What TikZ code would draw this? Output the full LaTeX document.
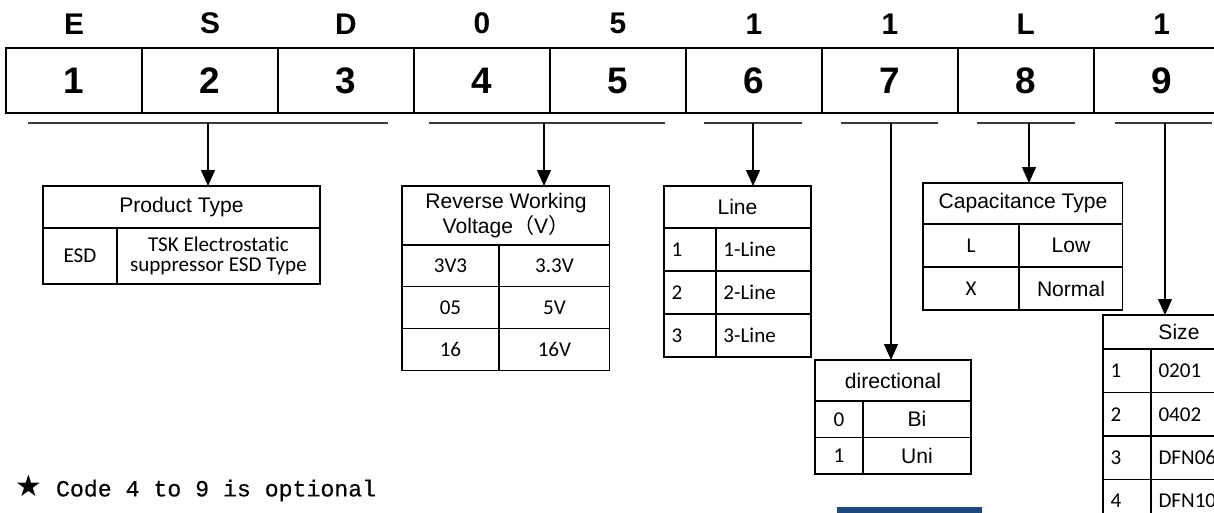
\documentclass[tikz,border=0pt]{standalone}
\usepackage{fontspec}
\setmainfont{Liberation Sans}
\newfontfamily\calibrifont[Ligatures=NoCommon]{Carlito}
\newfontfamily\monofont[FakeBold=0.4]{Liberation Mono}
\newfontfamily\symfont{DejaVu Sans}
\newfontfamily\cjkfont{Noto Sans CJK SC}
\usetikzlibrary{arrows.meta, positioning}
\definecolor{NavyBar}{HTML}{1F497D}
\definecolor{RuleGray}{HTML}{3A3A3A}
\tikzset{
    codecell/.style={rectangle, draw=black, line width=1.2pt, outer sep=0pt, inner sep=0pt, minimum width=2.72cm, minimum height=1.3cm, font=\fontsize{21}{21}\selectfont\bfseries},
    codeletter/.style={inner sep=0pt, font=\fontsize{17}{17}\selectfont\bfseries},
    hdrcell/.style={rectangle, draw=black, outer sep=0pt, inner sep=0pt, align=center, font=\fontsize{12}{12.5}\selectfont},
    valcell/.style={rectangle, draw=black, outer sep=0pt, inner sep=0pt, align=center, font=\calibrifont\fontsize{12}{11.5}\selectfont},
    arialval/.style={valcell, font=\rmfamily\fontsize{12}{12}\selectfont},
    leftcell/.style={valcell, align=left, text width=#1, inner xsep=0.15cm},
    rulestroke/.style={draw=RuleGray, line width=1.2pt},
    pickarrow/.style={-{Triangle[length=0.32cm, width=0.28cm]}, draw=black, line width=0.75pt},
    notetext/.style={inner sep=0pt, font=\monofont\fontsize{13.2}{13.2}\selectfont}
}

\begin{document}
\begin{tikzpicture}[x=0.02cm, y=-0.02cm, node distance=0pt]
    \useasboundingbox (0,0) rectangle (1214,512);

    % Code cells
    \node[codecell, anchor=north west] (c1) at (6,48) {1};
    \node[codecell, right=of c1] (c2) {2};
    \node[codecell, right=of c2] (c3) {3};
    \node[codecell, right=of c3] (c4) {4};
    \node[codecell, right=of c4] (c5) {5};
    \node[codecell, right=of c5] (c6) {6};
    \node[codecell, right=of c6] (c7) {7};
    \node[codecell, right=of c7] (c8) {8};
    \node[codecell, right=of c8] (c9) {9};

    % Part number letters
    \node[codeletter, above=2.7mm of c1] (l1) {E};
    \node[codeletter, above=2.7mm of c2] (l2) {S};
    \node[codeletter, above=2.7mm of c3] (l3) {D};
    \node[codeletter, above=2.7mm of c4] (l4) {0};
    \node[codeletter, above=2.7mm of c5] (l5) {5};
    \node[codeletter, above=2.7mm of c6] (l6) {1};
    \node[codeletter, above=2.7mm of c7] (l7) {1};
    \node[codeletter, above=2.7mm of c8] (l8) {L};
    \node[codeletter, above=2.7mm of c9] (l9) {1};

    % Group rules
    \draw[rulestroke] (28,123) -- (388,123);
    \draw[rulestroke] (429,123) -- (665,123);
    \draw[rulestroke] (704,123) -- (802,123);
    \draw[rulestroke] (841,123) -- (938,123);
    \draw[rulestroke] (977,123) -- (1075,123);
    \draw[rulestroke] (1115,123) -- (1212,123);
    \coordinate (u1) at (208,123);
    \coordinate (u2) at (544,123);
    \coordinate (u3) at (753,123);
    \coordinate (u4) at (891,123);
    \coordinate (u5) at (1029,123);
    \coordinate (u6) at (1165,123);

    % Product type
    \begin{scope}[line width=1pt]
    \node[hdrcell, anchor=north west, minimum width=5.54cm, minimum height=0.84cm] (prodhdr) at (43,186) {Product Type};
    \node[valcell, below right=of prodhdr.south west, minimum width=1.48cm, minimum height=1.12cm] (prodk) {ESD};
    \node[valcell, right=of prodk, minimum width=4.06cm, minimum height=1.12cm] (prodv) {TSK Electrostatic\\suppressor ESD Type};
    \end{scope}

    % Reverse working voltage
    \begin{scope}[line width=0.6pt]
    \node[hdrcell, anchor=north west, minimum width=4.16cm, minimum height=1.18cm] (volthdr) at (402,186) {Reverse Working\\Voltage{\cjkfont（}V{\cjkfont）}};
    \node[valcell, below right=of volthdr.south west, minimum width=1.94cm, minimum height=0.835cm] (volt1k) {3V3};
    \node[valcell, right=of volt1k, minimum width=2.22cm, minimum height=0.835cm] (volt1v) {3.3V};
    \node[valcell, below=of volt1k, minimum width=1.94cm, minimum height=0.835cm] (volt2k) {05};
    \node[valcell, right=of volt2k, minimum width=2.22cm, minimum height=0.835cm] (volt2v) {5V};
    \node[valcell, below=of volt2k, minimum width=1.94cm, minimum height=0.835cm] (volt3k) {16};
    \node[valcell, right=of volt3k, minimum width=2.22cm, minimum height=0.835cm] (volt3v) {16V};
    \end{scope}

    % Line
    \begin{scope}[line width=1.1pt]
    \node[hdrcell, anchor=north west, minimum width=2.94cm, minimum height=0.84cm] (linehdr) at (664,186) {Line};
    \node[leftcell=0.74cm, below right=of linehdr.south west, minimum height=0.86cm] (line1k) {1};
    \node[leftcell=1.6cm, right=of line1k, minimum height=0.86cm] (line1v) {1-Line};
    \node[leftcell=0.74cm, below=of line1k, minimum height=0.86cm] (line2k) {2};
    \node[leftcell=1.6cm, right=of line2k, minimum height=0.86cm] (line2v) {2-Line};
    \node[leftcell=0.74cm, below=of line2k, minimum height=0.86cm] (line3k) {3};
    \node[leftcell=1.6cm, right=of line3k, minimum height=0.86cm] (line3v) {3-Line};
    \end{scope}

    % Directional
    \begin{scope}[line width=0.85pt]
    \node[hdrcell, anchor=north west, minimum width=3.12cm, minimum height=0.82cm] (dirhdr) at (815,360) {directional};
    \node[valcell, below right=of dirhdr.south west, minimum width=0.96cm, minimum height=0.73cm] (dir1k) {0};
    \node[arialval, right=of dir1k, minimum width=2.16cm, minimum height=0.73cm] (dir1v) {Bi};
    \node[valcell, below=of dir1k, minimum width=0.96cm, minimum height=0.73cm] (dir2k) {1};
    \node[arialval, right=of dir2k, minimum width=2.16cm, minimum height=0.73cm] (dir2v) {Uni};
    \end{scope}

    % Capacitance type
    \begin{scope}[line width=0.6pt]
    \node[hdrcell, anchor=north west, minimum width=4cm, minimum height=0.82cm] (caphdr) at (923,183) {Capacitance Type};
    \node[valcell, below right=of caphdr.south west, minimum width=1.92cm, minimum height=0.86cm] (cap1k) {L};
    \node[arialval, right=of cap1k, minimum width=2.08cm, minimum height=0.86cm] (cap1v) {Low};
    \node[valcell, below=of cap1k, minimum width=1.92cm, minimum height=0.86cm] (cap2k) {X};
    \node[arialval, right=of cap2k, minimum width=2.08cm, minimum height=0.86cm] (cap2v) {Normal};
    \end{scope}

    % Size
    \begin{scope}[line width=0.8pt]
    \node[hdrcell, anchor=north west, minimum width=3.04cm, minimum height=0.68cm] (sizehdr) at (1103,315) {Size};
    \node[leftcell=0.66cm, below right=of sizehdr.south west, minimum height=0.87cm] (size1k) {1};
    \node[leftcell=1.78cm, right=of size1k, minimum height=0.87cm] (size1v) {0201};
    \node[leftcell=0.66cm, below=of size1k, minimum height=0.87cm] (size2k) {2};
    \node[leftcell=1.78cm, right=of size2k, minimum height=0.87cm] (size2v) {0402};
    \node[leftcell=0.66cm, below=of size2k, minimum height=0.87cm] (size3k) {3};
    \node[leftcell=1.78cm, right=of size3k, minimum height=0.87cm] (size3v) {DFN06};
    \node[leftcell=0.66cm, below=of size3k, minimum height=0.87cm] (size4k) {4};
    \node[leftcell=1.78cm, right=of size4k, minimum height=0.87cm] (size4v) {DFN10};
    \end{scope}

    % Arrows
    \draw[pickarrow] (u1) -- (u1 |- prodhdr.north);
    \draw[pickarrow] (u2) -- (u2 |- volthdr.north);
    \draw[pickarrow] (u3) -- (u3 |- linehdr.north);
    \draw[pickarrow] (u4) -- (u4 |- dirhdr.north);
    \draw[pickarrow] (u5) -- (u5 |- caphdr.north);
    \draw[pickarrow] (u6) -- (u6 |- sizehdr.north);

    % Note and bar
    \node[notetext, anchor=west] (note) at (15,488) {{\symfont\fontsize{17}{17}\selectfont ★} Code 4 to 9 is optional};
    \fill[NavyBar] (837,507) rectangle (982,520);
\end{tikzpicture}
\end{document}
